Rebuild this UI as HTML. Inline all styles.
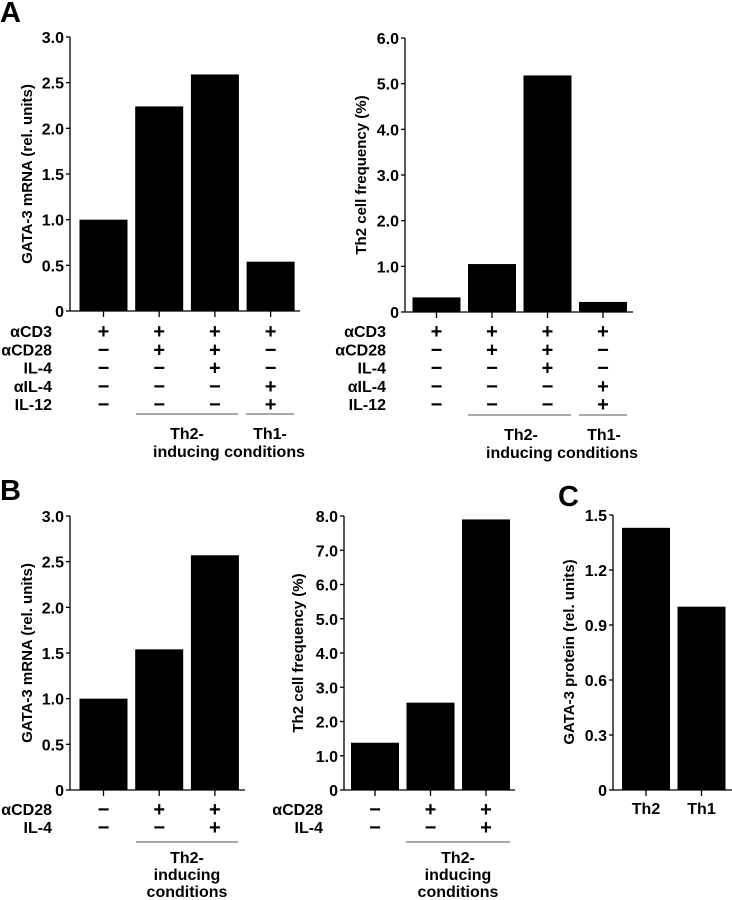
<!DOCTYPE html>
<html><head><meta charset="utf-8"><style>
body{margin:0;background:#fff;}
svg{display:block;}
svg text{font-family:"Liberation Sans",Arial,sans-serif;font-weight:700;}
</style></head><body>
<svg id="fig" width="732" height="900" viewBox="0 0 732 900">
<text x="0" y="22" font-size="29" font-weight="bold">A</text>
<text x="0" y="500" font-size="29" font-weight="bold">B</text>
<text x="558" y="506" font-size="29" font-weight="bold">C</text>
</svg>
<script>
const a1Values=[1.0,2.24,2.59,0.54];
const a1Ticks=["0","0.5","1.0","1.5","2.0","2.5","3.0"];
const a1TickVals=[0,0.5,1,1.5,2,2.5,3];
const a2Values=[0.32,1.05,5.18,0.22];
const a2Ticks=["0","1.0","2.0","3.0","4.0","5.0","6.0"];
const a2TickVals=[0,1,2,3,4,5,6];
const aRowNames=["αCD3","αCD28","IL-4","αIL-4","IL-12"];
const aSigns=[["+","+","+","+"],["−","+","+","−"],["−","−","+","−"],["−","−","−","+"],["−","−","−","+"]];
const b1Values=[1.0,1.54,2.57];
const b1Ticks=["0","0.5","1.0","1.5","2.0","2.5","3.0"];
const b1TickVals=[0,0.5,1,1.5,2,2.5,3];
const b2Values=[1.38,2.55,7.9];
const b2Ticks=["0","1.0","2.0","3.0","4.0","5.0","6.0","7.0","8.0"];
const b2TickVals=[0,1,2,3,4,5,6,7,8];
const bRowNames=["αCD28","IL-4"];
const bSigns=[["−","+","+"],["−","−","+"]];
const cCategories=["Th2","Th1"];
const cValues=[1.43,1.0];
const cTicks=["0","0.3","0.6","0.9","1.2","1.5"];
const cTickVals=[0,0.3,0.6,0.9,1.2,1.5];

const svg=document.getElementById('fig');
const NS='http://www.w3.org/2000/svg';
function mk(tag,attrs,txt){const e=document.createElementNS(NS,tag);for(const k in attrs)e.setAttribute(k,attrs[k]);if(tag==='text')e.setAttribute('font-weight','bold');if(txt!==undefined)e.textContent=txt;svg.appendChild(e);return e;}

function chart(o){
  const max=o.tickVals[o.tickVals.length-1];
  const y=v=>o.y0-(v/max)*(o.y0-o.yTop);
  const ax=mk('line',{x1:o.ax,y1:o.yTop,x2:o.ax,y2:o.y0,stroke:'#000','stroke-width':1.3});
  
  
  const xl=mk('line',{x1:o.ax,y1:o.y0,x2:o.axEnd,y2:o.y0,stroke:'#000','stroke-width':1.3});
  
  
  o.tickVals.forEach((v,i)=>{
    const t=mk('line',{x1:o.ax-4,y1:y(v),x2:o.ax,y2:y(v),stroke:'#000','stroke-width':1.3});
    
    
    const l=mk('text',{x:o.ax-6,y:y(v)+6,'font-size':16,'text-anchor':'end'},o.ticks[i]);
    
    
  });
  const step=o.step;
  o.values.forEach((v,i)=>{
    const cx=o.c0+i*step;
    const r=mk('rect',{x:cx-24,y:y(v),width:48,height:o.y0-y(v),fill:'#000'});
    
    
    const t=mk('line',{x1:cx,y1:o.y0,x2:cx,y2:o.y0+6,stroke:'#000','stroke-width':1.3});
    
    
  });
  const tt=mk('text',{x:0,y:0,'font-size':15,'text-anchor':'middle',transform:`translate(${o.titleX},${o.titleY}) rotate(-90)`},o.title);
  
  
  if(o.rows){
    o.rows.forEach((nm,r)=>{
      const ry=o.rowY0+r*o.rowStep;
      const l=mk('text',{x:o.rowX,y:ry+6,'font-size':16,'text-anchor':'end'},nm);
      
      
      o.signs[r].forEach((s,i)=>{
        const st=mk('text',{x:o.c0+i*step,y:ry+7,'font-size':20,'text-anchor':'middle'},s);
        
        
      });
    });
  }
  if(o.cats){
    o.cats.forEach((c,i)=>{
      const l=mk('text',{x:o.c0+i*step,y:o.y0+24,'font-size':16,'text-anchor':'middle'},c);
      
      
    });
  }
  (o.groups||[]).forEach(g=>{
    const ln=mk('line',{x1:g.x1,y1:g.y,x2:g.x2,y2:g.y,stroke:'#777','stroke-width':1.2});
    
    
    g.lines.forEach((t,k)=>{
      const tx=mk('text',{x:g.tx,y:g.y+(g.off||25)+k*17,'font-size':16,'text-anchor':'middle'},t);
      
      
    });
  });
}

chart({id:'a1',values:a1Values,ticks:a1Ticks,tickVals:a1TickVals,ax:70,axEnd:300,yTop:37,y0:311,c0:103.5,step:55.7,
  title:'GATA-3 mRNA (rel. units)',titleX:32,titleY:174,rows:aRowNames,signs:aSigns,rowX:52,rowY0:331,rowStep:18.3,
  groups:[{x1:136,x2:238,y:414,tx:187,lines:['Th2-']},{x1:246,x2:294,y:414,tx:270,lines:['Th1-']}]});
mk('text',{x:229,y:457,'font-size':16,'text-anchor':'middle',},'inducing conditions');
chart({id:'a2',values:a2Values,ticks:a2Ticks,tickVals:a2TickVals,ax:405,axEnd:633,yTop:38,y0:312,c0:436.5,step:55.5,
  title:'Th2 cell frequency (%)',titleX:366,titleY:175,rows:aRowNames,signs:aSigns,rowX:386,rowY0:331,rowStep:18.3,
  groups:[{x1:468,x2:571,y:415,tx:521,lines:['Th2-']},{x1:579,x2:627,y:415,tx:604,lines:['Th1-']}]});
mk('text',{x:562,y:458,'font-size':16,'text-anchor':'middle',},'inducing conditions');
chart({id:'b1',values:b1Values,ticks:b1Ticks,tickVals:b1TickVals,ax:70,axEnd:245,yTop:516,y0:790,c0:103.5,step:55.7,
  title:'GATA-3 mRNA (rel. units)',titleX:32,titleY:653,rows:bRowNames,signs:bSigns,rowX:52,rowY0:809,rowStep:18,
  groups:[{x1:136,x2:238,y:842,tx:187,off:21,lines:['Th2-','inducing','conditions']}]});
chart({id:'b2',values:b2Values,ticks:b2Ticks,tickVals:b2TickVals,ax:344,axEnd:515,yTop:516,y0:790,c0:375,step:55.5,
  title:'Th2 cell frequency (%)',titleX:303,titleY:653,rows:bRowNames,signs:bSigns,rowX:323,rowY0:809,rowStep:18,
  groups:[{x1:406,x2:510,y:842,tx:458,off:21,lines:['Th2-','inducing','conditions']}]});
chart({id:'c',values:cValues,ticks:cTicks,tickVals:cTickVals,ax:613,axEnd:732,yTop:515,y0:790,c0:646,step:55.5,
  title:'GATA-3 protein (rel. units)',titleX:574,titleY:652,cats:cCategories});
</script>
</body></html>
